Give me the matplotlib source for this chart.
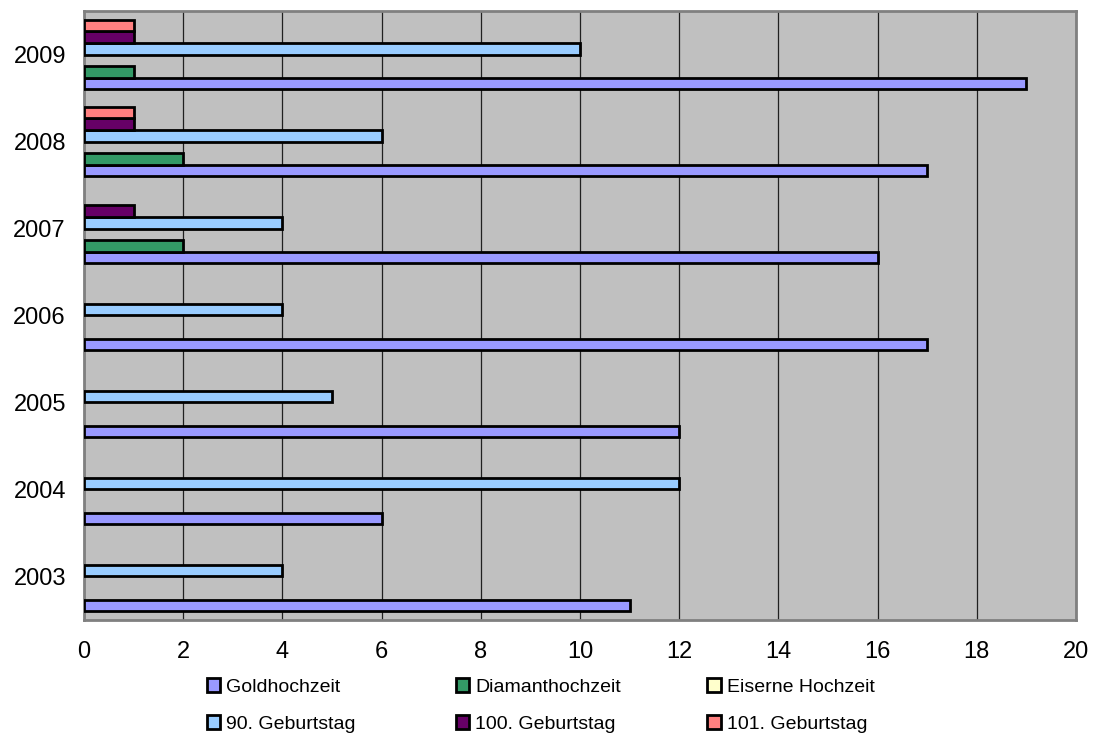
import numpy as np
import matplotlib.pyplot as plt
from matplotlib.patches import Patch

plt.rcParams['font.family'] = ['Liberation Sans', 'DejaVu Sans']

# Jubiläen pro Jahr
jahre = ['2003', '2004', '2005', '2006', '2007', '2008', '2009']
reihen = ['Goldhochzeit', 'Diamanthochzeit', 'Eiserne Hochzeit',
          '90. Geburtstag', '100. Geburtstag', '101. Geburtstag']
farben = ['#9999FF', '#339966', '#FFFFCC', '#99CCFF', '#660066', '#FF8080']

goldhochzeit = [11, 6, 12, 17, 16, 17, 19]
diamanthochzeit = [0, 0, 0, 0, 2, 2, 1]
eiserne_hochzeit = [0, 0, 0, 0, 0, 0, 0]
geburtstag_90 = [4, 12, 5, 4, 4, 6, 10]
geburtstag_100 = [0, 0, 0, 0, 1, 1, 1]
geburtstag_101 = [0, 0, 0, 0, 0, 1, 1]

werte = [goldhochzeit, diamanthochzeit, eiserne_hochzeit,
         geburtstag_90, geburtstag_100, geburtstag_101]

fig = plt.figure(figsize=(10.98, 7.35), dpi=100)
ax = fig.add_axes([0.0765, 0.1565, 0.9035, 0.8285])
ax.set_facecolor('#C0C0C0')

y = np.arange(len(jahre))
h = 0.8 / len(reihen)
for j, (name, w, c) in enumerate(zip(reihen, werte, farben)):
    bars = ax.barh(y - 0.4 + (j + 0.5) * h, w, height=h, color=c,
                   edgecolor='black', linewidth=2.0, label=name, zorder=3)
    # leere Balken nicht zeichnen
    for b, v in zip(bars, w):
        if v == 0:
            b.set_visible(False)

ax.set_xlim(0, 20)
ax.set_ylim(-0.5, len(jahre) - 0.5)
ax.set_xticks(range(0, 21, 2))
ax.set_yticks(y)
ax.set_yticklabels(jahre)
ax.grid(axis='x', color='#202020', linewidth=0.9, zorder=1)
ax.set_axisbelow(True)
ax.tick_params(length=0, labelsize=17)
ax.tick_params(axis='x', pad=15)
ax.tick_params(axis='y', pad=13)
for s in ax.spines.values():
    s.set_color('#808080')
    s.set_linewidth(2)

# Legende in drei Spalten: oben Hochzeiten, unten Geburtstage
spalten_x = [0.181, 0.408, 0.637]
for k, x0 in enumerate(spalten_x):
    idx = [k, k + 3]
    handles = [Patch(facecolor=farben[i], edgecolor='black', linewidth=2.0)
               for i in idx]
    fig.legend(handles, [reihen[i] for i in idx], loc='upper left',
               bbox_to_anchor=(x0, 0.088), frameon=False,
               handlelength=0.7, handleheight=0.7, handletextpad=0.3,
               labelspacing=1.0, borderaxespad=0, prop={'size': 14})

fig.savefig('out.png', dpi=100)
